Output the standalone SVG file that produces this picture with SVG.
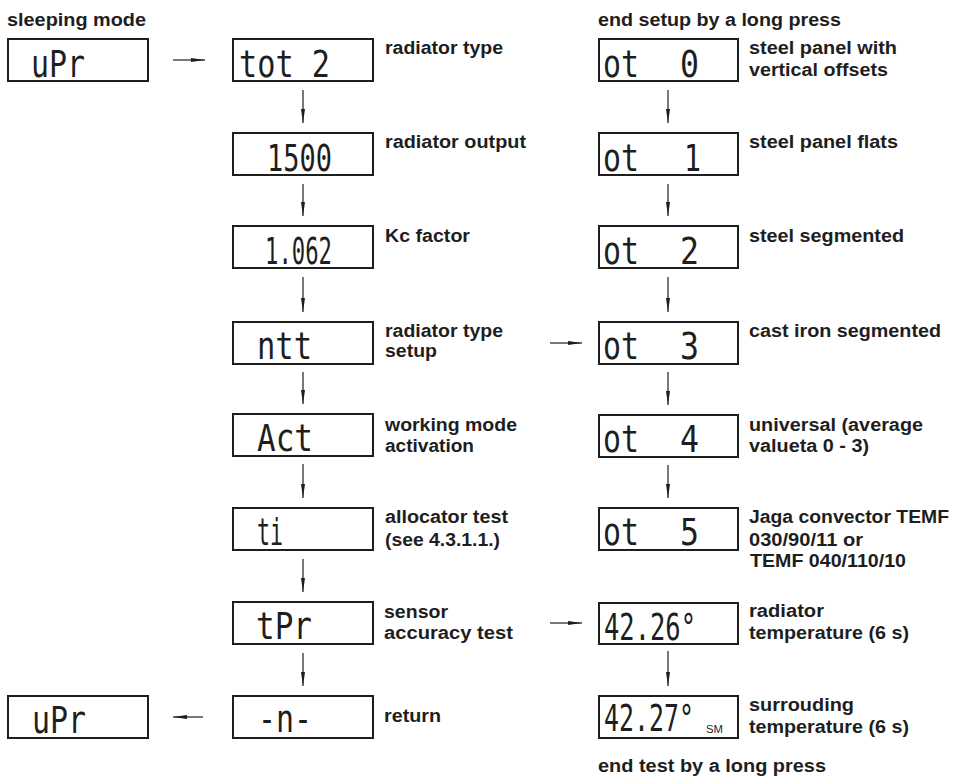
<svg xmlns="http://www.w3.org/2000/svg" width="953" height="778" viewBox="0 0 953 778">
<style>
.box{fill:#fff;stroke:#1e1e1e;stroke-width:2}
.lbl{font-family:"Liberation Sans",Arial,sans-serif;font-weight:bold;font-size:18px;fill:#1e1e1e}
.seg{font-family:"DejaVu Sans Mono","Liberation Mono",monospace;font-size:38px;fill:#1e1e1e}
.seg2{font-family:"DejaVu Sans Mono","Liberation Mono",monospace;font-size:27px;fill:#1e1e1e}
.sm{font-family:"Liberation Sans",Arial,sans-serif;font-size:10px;fill:#1e1e1e}
.con{stroke:#1e1e1e;stroke-width:1.2;fill:none;marker-end:url(#ah)}
</style>
<defs>
<marker id="ah" markerUnits="userSpaceOnUse" markerWidth="15" markerHeight="6" refX="14" refY="3" orient="auto">
<path d="M0,1 L14,3 L0,5 z" fill="#1e1e1e"/>
</marker>
</defs>
<rect width="953" height="778" fill="#fff"/>

<text class="lbl" x="7" y="26" textLength="139" lengthAdjust="spacingAndGlyphs">sleeping mode</text>
<text class="lbl" x="598" y="26" textLength="243" lengthAdjust="spacingAndGlyphs">end setup by a long press</text>
<text class="lbl" x="598" y="772" textLength="228" lengthAdjust="spacingAndGlyphs">end test by a long press</text>

<g id="connectors">
<line class="con" x1="173" y1="60" x2="205" y2="60"/>
<line class="con" x1="303" y1="90" x2="303" y2="123"/>
<line class="con" x1="303" y1="184" x2="303" y2="216"/>
<line class="con" x1="303" y1="277" x2="303" y2="312"/>
<line class="con" x1="303" y1="372" x2="303" y2="404"/>
<line class="con" x1="303" y1="464" x2="303" y2="498"/>
<line class="con" x1="303" y1="559" x2="303" y2="592"/>
<line class="con" x1="303" y1="653" x2="303" y2="686"/>
<line class="con" x1="203" y1="717" x2="173" y2="717"/>
<line class="con" x1="550" y1="343" x2="582" y2="343"/>
<line class="con" x1="550" y1="623" x2="582" y2="623"/>
<line class="con" x1="668" y1="90" x2="668" y2="123"/>
<line class="con" x1="668" y1="184" x2="668" y2="216"/>
<line class="con" x1="668" y1="277" x2="668" y2="312"/>
<line class="con" x1="668" y1="372" x2="668" y2="405"/>
<line class="con" x1="668" y1="465" x2="668" y2="498"/>
<line class="con" x1="668" y1="651" x2="668" y2="686"/>
</g>

<g id="n-upr-top">
<rect class="box" x="8" y="39" width="140" height="42"/>
<text class="seg" x="31" y="77" textLength="54" lengthAdjust="spacingAndGlyphs">uPr</text>
</g>
<g id="n-tot2">
<rect class="box" x="233" y="39" width="140" height="42"/>
<text class="seg" x="239" y="77" textLength="91" lengthAdjust="spacingAndGlyphs">tot 2</text>
<text class="lbl" x="385" y="54" textLength="118" lengthAdjust="spacingAndGlyphs">radiator type</text>
</g>
<g id="n-1500">
<rect class="box" x="233" y="133" width="140" height="42"/>
<text class="seg" x="267" y="171" textLength="65" lengthAdjust="spacingAndGlyphs">1500</text>
<text class="lbl" x="385" y="148" textLength="141" lengthAdjust="spacingAndGlyphs">radiator output</text>
</g>
<g id="n-1062">
<rect class="box" x="233" y="226" width="140" height="42"/>
<text class="seg" x="265" y="264" textLength="67" lengthAdjust="spacingAndGlyphs">1.062</text>
<text class="lbl" x="385" y="242" textLength="85" lengthAdjust="spacingAndGlyphs">Kc factor</text>
</g>
<g id="n-ntt">
<rect class="box" x="233" y="322" width="140" height="42"/>
<text class="seg" x="257" y="359" textLength="55" lengthAdjust="spacingAndGlyphs">ntt</text>
<text class="lbl" x="385" y="337" textLength="118" lengthAdjust="spacingAndGlyphs">radiator type</text>
<text class="lbl" x="385" y="357" textLength="52" lengthAdjust="spacingAndGlyphs">setup</text>
</g>
<g id="n-act">
<rect class="box" x="233" y="414" width="140" height="42"/>
<text class="seg" x="257" y="451" textLength="56" lengthAdjust="spacingAndGlyphs">Act</text>
<text class="lbl" x="385" y="431" textLength="132" lengthAdjust="spacingAndGlyphs">working mode</text>
<text class="lbl" x="385" y="452" textLength="89" lengthAdjust="spacingAndGlyphs">activation</text>
</g>
<g id="n-ti">
<rect class="box" x="233" y="508" width="140" height="42"/>
<text class="seg" x="257" y="545" textLength="26" lengthAdjust="spacingAndGlyphs">ti</text>
<text class="lbl" x="385" y="523" textLength="123" lengthAdjust="spacingAndGlyphs">allocator test</text>
<text class="lbl" x="385" y="545.5" textLength="115" lengthAdjust="spacingAndGlyphs">(see 4.3.1.1.)</text>
</g>
<g id="n-tpr">
<rect class="box" x="233" y="602" width="140" height="42"/>
<text class="seg" x="256" y="639" textLength="56" lengthAdjust="spacingAndGlyphs">tPr</text>
<text class="lbl" x="384" y="617.5" textLength="64" lengthAdjust="spacingAndGlyphs">sensor</text>
<text class="lbl" x="384" y="639" textLength="129" lengthAdjust="spacingAndGlyphs">accuracy test</text>
</g>
<g id="n-return">
<rect class="box" x="233" y="696" width="140" height="42"/>
<text class="seg" x="258" y="732" textLength="54" lengthAdjust="spacingAndGlyphs">-n-</text>
<text class="lbl" x="384" y="721.5" textLength="57" lengthAdjust="spacingAndGlyphs">return</text>
</g>
<g id="n-upr-bottom">
<rect class="box" x="8" y="696" width="140" height="42"/>
<text class="seg" x="32" y="733" textLength="54" lengthAdjust="spacingAndGlyphs">uPr</text>
</g>

<g id="n-ot0">
<rect class="box" x="599" y="39" width="139" height="42"/>
<text class="seg" x="603" y="77" textLength="36" lengthAdjust="spacingAndGlyphs">ot</text>
<text class="seg" x="680" y="77" textLength="19" lengthAdjust="spacingAndGlyphs">0</text>
<text class="lbl" x="749" y="53.5" textLength="148" lengthAdjust="spacingAndGlyphs">steel panel with</text>
<text class="lbl" x="749" y="75.5" textLength="139" lengthAdjust="spacingAndGlyphs">vertical offsets</text>
</g>
<g id="n-ot1">
<rect class="box" x="599" y="133" width="139" height="42"/>
<text class="seg" x="603" y="171" textLength="36" lengthAdjust="spacingAndGlyphs">ot</text>
<text class="seg" x="684" y="171" textLength="17" lengthAdjust="spacingAndGlyphs">1</text>
<text class="lbl" x="749" y="148" textLength="149" lengthAdjust="spacingAndGlyphs">steel panel flats</text>
</g>
<g id="n-ot2">
<rect class="box" x="599" y="226" width="139" height="42"/>
<text class="seg" x="603" y="264" textLength="36" lengthAdjust="spacingAndGlyphs">ot</text>
<text class="seg" x="680" y="264" textLength="19" lengthAdjust="spacingAndGlyphs">2</text>
<text class="lbl" x="749" y="242" textLength="155" lengthAdjust="spacingAndGlyphs">steel segmented</text>
</g>
<g id="n-ot3">
<rect class="box" x="599" y="322" width="139" height="42"/>
<text class="seg" x="603" y="359" textLength="36" lengthAdjust="spacingAndGlyphs">ot</text>
<text class="seg" x="680" y="359" textLength="19" lengthAdjust="spacingAndGlyphs">3</text>
<text class="lbl" x="749" y="337" textLength="192" lengthAdjust="spacingAndGlyphs">cast iron segmented</text>
</g>
<g id="n-ot4">
<rect class="box" x="599" y="415" width="139" height="42"/>
<text class="seg" x="603" y="452" textLength="36" lengthAdjust="spacingAndGlyphs">ot</text>
<text class="seg" x="680" y="452" textLength="19" lengthAdjust="spacingAndGlyphs">4</text>
<text class="lbl" x="749" y="431" textLength="174" lengthAdjust="spacingAndGlyphs">universal (average</text>
<text class="lbl" x="749" y="452" textLength="120" lengthAdjust="spacingAndGlyphs">valueta 0 - 3)</text>
</g>
<g id="n-ot5">
<rect class="box" x="599" y="508" width="139" height="42"/>
<text class="seg" x="603" y="545" textLength="36" lengthAdjust="spacingAndGlyphs">ot</text>
<text class="seg" x="680" y="545" textLength="19" lengthAdjust="spacingAndGlyphs">5</text>
<text class="lbl" x="749" y="523" textLength="200" lengthAdjust="spacingAndGlyphs">Jaga convector TEMF</text>
<text class="lbl" x="749" y="545.5" textLength="114" lengthAdjust="spacingAndGlyphs">030/90/11 or</text>
<text class="lbl" x="750" y="567" textLength="156" lengthAdjust="spacingAndGlyphs">TEMF 040/110/10</text>
</g>
<g id="n-4226">
<rect class="box" x="599" y="603" width="139" height="41"/>
<text class="seg" x="604" y="640" textLength="92" lengthAdjust="spacingAndGlyphs">42.26°</text>
<text class="lbl" x="749" y="617" textLength="75" lengthAdjust="spacingAndGlyphs">radiator</text>
<text class="lbl" x="749" y="639" textLength="160" lengthAdjust="spacingAndGlyphs">temperature (6 s)</text>
</g>
<g id="n-4227">
<rect class="box" x="599" y="696" width="139" height="42"/>
<text class="seg2" transform="translate(604 731) scale(1 1.4)" x="0" y="0" textLength="90" lengthAdjust="spacingAndGlyphs">42.27°</text>
<text class="sm" x="706" y="733" textLength="17" lengthAdjust="spacingAndGlyphs">SM</text>
<text class="lbl" x="749" y="711" textLength="105" lengthAdjust="spacingAndGlyphs">surrouding</text>
<text class="lbl" x="749" y="733" textLength="160" lengthAdjust="spacingAndGlyphs">temperature (6 s)</text>
</g>
</svg>
